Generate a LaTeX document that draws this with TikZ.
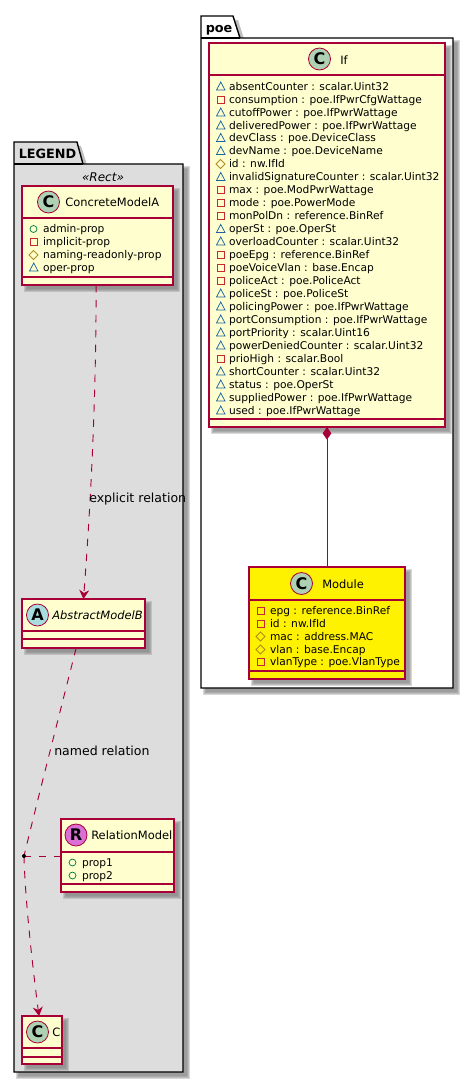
\documentclass[tikz,border=0pt]{standalone}
\usepackage{fontspec}
\setmainfont{DejaVu Sans}
\usetikzlibrary{arrows.meta}
\definecolor{bord}{HTML}{A80036}
\definecolor{cream}{HTML}{FEFECE}
\definecolor{pkg}{HTML}{DDDDDD}
\definecolor{circC}{HTML}{ADD1B2}
\definecolor{circA}{HTML}{A9DCDF}
\definecolor{circR}{HTML}{DA70D6}
\definecolor{pub}{HTML}{038048}
\definecolor{priv}{HTML}{C82930}
\definecolor{prot}{HTML}{B38D22}
\definecolor{pack}{HTML}{1963A0}
\definecolor{shad}{HTML}{808080}
\tikzset{
 x=0.75pt,y=-0.75pt,
 attr/.style={font=\fontsize{8pt}{9.75pt}\selectfont,anchor=base west,inner sep=0pt,outer sep=0pt,text=black},
 title/.style={font=\fontsize{8.6pt}{11pt}\selectfont,anchor=base west,inner sep=0pt,text=black},
 pkgtitle/.style={font=\fontsize{9.6pt}{12pt}\selectfont\bfseries,anchor=base west,inner sep=0pt},
 circ/.style={circle,draw=bord,line width=0.6pt,minimum size=16.5pt,inner sep=0pt,font=\fontsize{12pt}{12pt}\selectfont\bfseries,text=black},
 link/.style={draw=bord,line width=0.7pt},
 dashlink/.style={link,dash pattern=on 5.6pt off 5.6pt},
 vee/.style={-{Stealth[length=6.75pt,width=7.5pt,inset=2.2pt]}},
 lab/.style={font=\fontsize{9.4pt}{11pt}\selectfont,anchor=base west,inner sep=0pt,text=black},
 cbox/.style={draw=bord,line width=0.85pt,inner sep=0pt,outer sep=0pt},
 pbox/.style={draw=black,line width=1.05pt},
}
% soft drop shadow of a rectangle x1,y1,x2,y2
\newcommand{\softshadow}[4]{%
 \foreach \i in {0,1,2,3}{\fill[shad,opacity=0.3] (#1+2+\i,#2+2+\i) rectangle (#3+6.5-\i,#4+6.5-\i);}%
}
% name, x1,y1,x2,y2,line1,line2,fill
\newcommand{\classbox}[8]{%
 \softshadow{#2}{#3}{#4}{#5}%
 \pgfmathsetmacro{\cbw}{(#4-#2)*0.75}\pgfmathsetmacro{\cbh}{(#5-#3)*0.75}%
 \node[cbox,fill=#8,minimum width=\cbw pt,minimum height=\cbh pt] (#1) at ({(#2+#4)/2},{(#3+#5)/2}) {};
 \draw[cbox] (#2,#6) -- (#4,#6);
 \draw[cbox] (#2,#7) -- (#4,#7);
}
\newcommand{\pubm}[2]{\draw[pub,line width=0.55pt] (#1+3.5,#2-3.5) circle[radius=2.6pt];}
\newcommand{\privm}[2]{\draw[priv,line width=0.55pt] (#1,#2-7) rectangle (#1+7,#2);}
\newcommand{\protm}[2]{\draw[prot,line width=0.55pt] (#1+3.5,#2-8) -- (#1+8,#2-3.5) -- (#1+3.5,#2+1) -- (#1-1,#2-3.5) -- cycle;}
\newcommand{\packm}[2]{\draw[pack,line width=0.55pt] (#1-0.5,#2) -- (#1+8,#2) -- (#1+3.75,#2-8) -- cycle;}
% marker macro, x of marker, x of text, baseline, text
\newcommand{\member}[5]{#1{#2}{#4}\node[attr] at (#3,#4) {#5};}
\begin{document}
\begin{tikzpicture}
\useasboundingbox (0,0) rectangle (474,1083);
\fill[white] (0,0) rectangle (474,1083);

% ---- poe package
\softshadow{201}{38}{453}{688}
\fill[shad,opacity=0.5] (233,20) -- (238,20) -- (245,42) -- (233,42) -- cycle;
\path[pbox,fill=white] (201,38) -- (201,16) -- (233,16) -- (240,38) -- (453,38) -- (453,688) -- (201,688) -- cycle;
\draw[pbox,line width=0.8pt] (201,38) -- (240,38);
\node[pkgtitle] (poeT) at (205.5,32) {poe};

% ---- LEGEND package
\softshadow{14}{164}{183}{1072}
\fill[shad,opacity=0.5] (77,146) -- (81,146) -- (88,168) -- (77,168) -- cycle;
\path[pbox,fill=pkg] (14,164) -- (14,142) -- (77,142) -- (83,164) -- (183,164) -- (183,1072) -- (14,1072) -- cycle;
\draw[pbox,line width=0.8pt] (14,164) -- (83,164);
\node[pkgtitle] (legT) at (18.5,158) {LEGEND};
\node[font=\fontsize{9pt}{11pt}\selectfont\itshape,anchor=base,inner sep=0pt] (rect) at (103,181) {«Rect»};

% ---- classes
\classbox{If}{209}{43}{445}{427}{75}{419}{cream}
\node[circ,fill=circC] (ifc) at (319.5,59) {C};
\node[title] (ifn) at (340,64) {If};
\foreach \m/\t/\y in {%
 \packm/{absentCounter : scalar.Uint32}/90,
 \privm/{consumption : poe.IfPwrCfgWattage}/103,
 \packm/{cutoffPower : poe.IfPwrWattage}/116,
 \packm/{deliveredPower : poe.IfPwrWattage}/129,
 \packm/{devClass : poe.DeviceClass}/141.5,
 \packm/{devName : poe.DeviceName}/154.5,
 \protm/{id : nw.IfId}/167.5,
 \packm/{invalidSignatureCounter : scalar.Uint32}/180.5,
 \privm/{max : poe.ModPwrWattage}/193.5,
 \privm/{mode : poe.PowerMode}/206.5,
 \privm/{monPolDn : reference.BinRef}/219.5,
 \packm/{operSt : poe.OperSt}/232.5,
 \packm/{overloadCounter : scalar.Uint32}/245,
 \privm/{poeEpg : reference.BinRef}/258.5,
 \privm/{poeVoiceVlan : base.Encap}/271.5,
 \privm/{policeAct : poe.PoliceAct}/284.5,
 \packm/{policeSt : poe.PoliceSt}/297,
 \packm/{policingPower : poe.IfPwrWattage}/310,
 \packm/{portConsumption : poe.IfPwrWattage}/323,
 \packm/{portPriority : scalar.Uint16}/336,
 \packm/{powerDeniedCounter : scalar.Uint32}/349,
 \privm/{prioHigh : scalar.Bool}/362,
 \packm/{shortCounter : scalar.Uint32}/375,
 \packm/{status : poe.OperSt}/388,
 \packm/{suppliedPower : poe.IfPwrWattage}/401,
 \packm/{used : poe.IfPwrWattage}/414}
 {\member{\m}{217}{229}{\y}{\t}}

\classbox{Module}{249}{567}{405}{679}{600}{671}{yellow}
\node[circ,fill=circC] (modc) at (301.5,583.5) {C};
\node[title] (modn) at (322,588) {Module};
\foreach \m/\t/\y in {%
 \privm/{epg : reference.BinRef}/614,
 \privm/{id : nw.IfId}/627,
 \protm/{mac : address.MAC}/640,
 \protm/{vlan : base.Encap}/653,
 \privm/{vlanType : poe.VlanType}/665.5}
 {\member{\m}{257}{270}{\y}{\t}}

\classbox{A}{22}{186}{173}{285}{218}{277}{cream}
\node[circ,fill=circC] (ac) at (48.5,202) {C};
\node[title] (an) at (65,206.5) {ConcreteModelA};
\pubm{30}{232.5}\node[attr] (a1) at (43,232.5) {admin-prop};
\privm{30}{245.5}\node[attr] (a2) at (43,245.5) {implicit-prop};
\protm{30}{258.5}\node[attr] (a3) at (43,258.5) {naming-readonly-prop};
\packm{30}{271}\node[attr] (a4) at (43,271) {oper-prop};

\classbox{B}{22}{599}{145}{648}{631}{639}{cream}
\node[circ,fill=circA] (bc) at (37.5,615) {A};
\node[title,font=\fontsize{8.6pt}{11pt}\selectfont\itshape] (bn) at (52,619.5) {AbstractModelB};

\classbox{R}{61}{819}{174}{892}{852}{884}{cream}
\node[circ,fill=circR] (rc) at (76,835) {R};
\node[title] (rn) at (91,839.5) {RelationModel};
\pubm{69}{866}\node[attr] (r1) at (82,866) {prop1};
\pubm{69}{879}\node[attr] (r2) at (82,879) {prop2};

\classbox{C}{22}{1016}{62}{1064}{1048}{1057}{cream}
\node[circ,fill=circC] (cc) at (37.5,1032) {C};
\node[title] (cn) at (52,1036.5) {C};

% ---- connectors
\draw[link,{Diamond[length=9.5pt,width=6.5pt]}-] (If.south) -- (Module.north);

\draw[dashlink,vee] ([xshift=-1pt]A.south) .. controls (96,400) and (91,500) .. (B.north);
\node[lab] (lab1) at (89,502) {explicit relation};

\coordinate (dot) at (24,856);
\draw[dashlink] ([xshift=-5.5pt]B.south) .. controls (60,712) and (40,790) .. (dot);
\draw[dashlink] (dot) -- (R.west |- dot);
\draw[dashlink,vee] (dot) .. controls (25,900) and (33,970) .. ([xshift=-2.25pt]C.north);
\fill[black] (dot) circle[radius=1.5pt];
\node[lab] (lab2) at (54,755) {named relation};
\end{tikzpicture}
\end{document}
